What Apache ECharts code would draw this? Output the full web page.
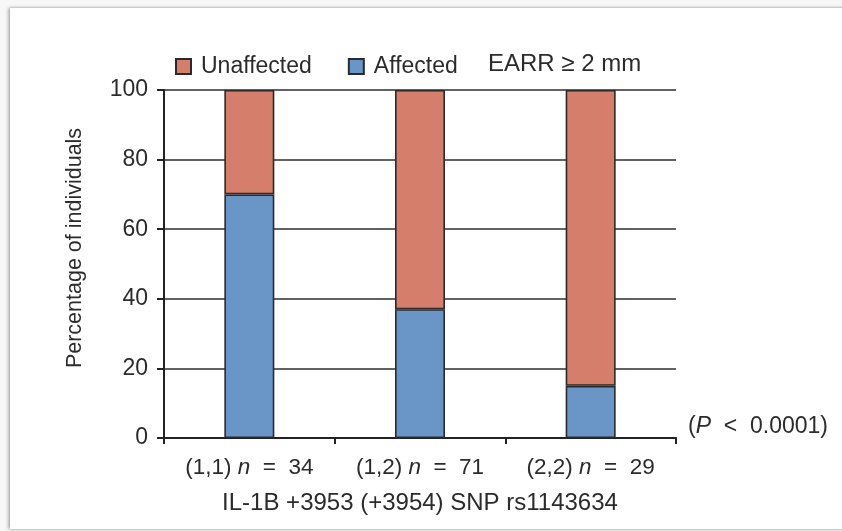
<!DOCTYPE html>
<html>
<head>
<meta charset="utf-8">
<script src="https://cdn.jsdelivr.net/npm/echarts@6/dist/echarts.min.js"></script>
<style>
html,body{margin:0;padding:0;background:#f7f7f7;}
#frame{position:absolute;left:10px;top:8px;width:840px;height:521px;background:#fff;box-shadow:-2px 0 3px rgba(0,0,0,0.25),0 -1px 2px rgba(0,0,0,0.12),0 1px 2px rgba(0,0,0,0.12);}
#chart{position:absolute;left:0;top:0;width:842px;height:531px;}
</style>
</head>
<body>
<div id="frame"></div>
<div id="chart"></div>
<script>
const genotypes = ['(1,1)', '(1,2)', '(2,2)'];
const sampleSizes = [34, 71, 29];
const affected = [70, 37, 15];
const unaffected = [30, 63, 85];
const yTicks = [0, 20, 40, 60, 80, 100];

const FONT = '"Liberation Sans", Arial, sans-serif';
const TXT = '#2b2b2b';
const chart = echarts.init(document.getElementById('chart'));
chart.setOption({
  animation: false,
  backgroundColor: 'transparent',
  textStyle: {fontFamily: FONT, color: TXT},
  grid: {left: 164, right: 166, top: 90, bottom: 93},
  legend: {
    left: 175, top: 55, padding: 0,
    itemWidth: 15, itemHeight: 15, itemGap: 36,
    icon: 'rect',
    data: ['Unaffected', 'Affected'],
    textStyle: {fontFamily: FONT, fontSize: 23, color: TXT, padding: [0, 0, 0, 5]},
    selectedMode: false
  },
  xAxis: {
    type: 'category',
    data: genotypes,
    boundaryGap: true,
    axisLine: {lineStyle: {color: '#222', width: 2}},
    axisTick: {show: true, length: 6, lineStyle: {color: '#222', width: 2}},
    axisLabel: {
      margin: 18,
      formatter: function (v, i) {
        return '{a|' + v + ' }{i|n}{a|  =  ' + sampleSizes[i] + '}';
      },
      rich: {
        a: {fontFamily: FONT, fontSize: 22.5, color: TXT},
        i: {fontFamily: FONT, fontSize: 22.5, color: TXT, fontStyle: 'italic'}
      }
    },
    name: 'IL-1B +3953 (+3954) SNP rs1143634',
    nameLocation: 'middle',
    nameGap: 53,
    nameTextStyle: {fontFamily: FONT, fontSize: 24, color: TXT}
  },
  yAxis: {
    type: 'value',
    min: 0, max: 100, interval: 20,
    axisLine: {show: true, lineStyle: {color: '#222', width: 2}},
    axisTick: {show: true, length: 7, lineStyle: {color: '#222', width: 2}},
    axisLabel: {
      margin: 16, fontFamily: FONT, fontSize: 23, color: TXT,
      formatter: function (v) { return yTicks.indexOf(v) >= 0 ? String(v) : ''; }
    },
    splitLine: {show: true, lineStyle: {color: '#2e2e2e', width: 1.6}},
    name: 'Percentage of individuals',
    nameLocation: 'middle',
    nameGap: 78,
    nameTextStyle: {fontFamily: FONT, fontSize: 21.5, color: TXT, padding: [0, 0, 0, 32]}
  },
  series: [
    {
      name: 'Affected', type: 'bar', stack: 'total', barWidth: 50,
      data: affected,
      itemStyle: {color: '#6a96c7', borderColor: '#2a2a2a', borderWidth: 1.6}
    },
    {
      name: 'Unaffected', type: 'bar', stack: 'total', barWidth: 50,
      data: unaffected,
      itemStyle: {color: '#d47e6b', borderColor: '#2a2a2a', borderWidth: 1.6}
    }
  ],
  graphic: [
    {
      type: 'text', left: 488, top: 52,
      style: {text: 'EARR \u2265 2 mm', fontFamily: FONT, fontSize: 24, fill: TXT}
    },
    {
      type: 'text', left: 688, top: 415,
      style: {
        text: '{a|(}{i|P}{a|  <  0.0001)}',
        rich: {
          a: {fontFamily: FONT, fontSize: 23, fill: TXT},
          i: {fontFamily: FONT, fontSize: 23, fill: TXT, fontStyle: 'italic'}
        }
      }
    }
  ]
});
</script>
</body>
</html>
